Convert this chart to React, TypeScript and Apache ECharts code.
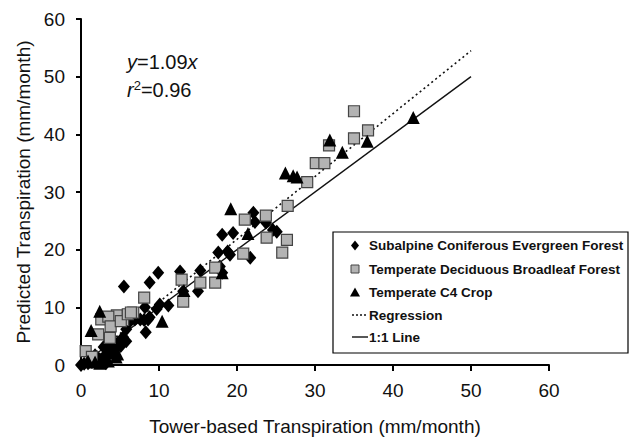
import React, { useEffect, useRef } from "react";
import * as echarts from "echarts";

const subalpine: [number, number][] = [
  [22.1, 26.4], [22.3, 24.8], [23.7, 24.7], [24.6, 23.4], [25.1, 23.1],
  [18.1, 22.6], [19.5, 22.9], [17.6, 19.5], [18.8, 19.7], [19.1, 19.1],
  [21.7, 18.6], [12.7, 16.2], [15.3, 16.4], [17.8, 17.1], [18.1, 16.0],
  [9.9, 16.0], [8.8, 14.3], [13.1, 12.8], [15.0, 12.8], [10.1, 10.5],
  [11.2, 10.3], [9.7, 9.7], [8.8, 8.3], [5.5, 13.6], [8.3, 5.7],
  [8.2, 10.0], [5.4, 4.8], [5.8, 4.1], [5.1, 3.3], [6.9, 7.9],
  [7.6, 7.9], [8.1, 7.8], [6.3, 7.6], [8.6, 7.9], [5.8, 6.2],
  [0.0, 0.0], [0.4, 0.2], [0.9, 0.3], [1.4, 0.5], [1.9, 0.9],
  [2.4, 1.0], [2.9, 1.4], [3.5, 1.9], [4.0, 2.4], [4.5, 2.8],
  [2.9, 3.1], [3.7, 3.6], [1.8, 1.7], [4.7, 3.8], [3.2, 0.3],
];

const deciduous: [number, number][] = [
  [35.0, 44.0], [36.8, 40.7], [35.0, 39.3], [31.8, 38.1], [30.1, 35.0],
  [31.2, 35.0], [29.0, 31.7], [26.5, 27.6], [21.0, 25.2], [23.7, 25.9],
  [23.8, 22.1], [26.4, 21.7], [25.8, 19.5], [20.8, 19.3], [17.2, 16.9],
  [15.3, 14.3], [17.2, 14.3], [12.9, 14.8], [13.1, 11.0], [8.1, 11.7],
  [6.7, 9.1], [5.4, 7.8], [4.1, 8.3], [4.6, 8.6], [2.6, 7.9],
  [3.5, 8.4], [3.8, 6.7], [5.1, 7.6], [6.0, 8.8], [6.4, 9.1],
  [2.2, 5.3], [3.7, 4.7], [0.6, 2.4], [1.4, 1.4],
];

const c4crop: [number, number][] = [
  [42.6, 42.9], [36.7, 38.8], [31.9, 39.0], [33.5, 36.9], [26.2, 33.3],
  [27.2, 32.8], [27.7, 32.6], [19.2, 27.1], [21.4, 22.8], [18.1, 16.0],
  [13.2, 12.9], [10.4, 7.6], [2.4, 9.3], [1.3, 6.0], [4.5, 1.4],
  [4.0, 2.1], [4.7, 1.9], [0.9, 0.7], [1.8, 0.5], [2.4, 0.3],
  [3.2, 1.0], [3.5, 0.7],
];

const regressionSlope = 1.09;
const lineEndX = 50;
const regressionLine: [number, number][] = [[0, 0], [lineEndX, lineEndX * regressionSlope]];
const oneToOneLine: [number, number][] = [[0, 0], [lineEndX, lineEndX]];

const seriesNames = [
  "Subalpine Coniferous Evergreen Forest",
  "Temperate Deciduous Broadleaf Forest",
  "Temperate C4 Crop",
  "Regression",
  "1:1 Line",
];

const FONT = "Liberation Sans, Arial, sans-serif";
const SQUARE_FILL = "#b3b3b3";
const SQUARE_BORDER = "#444";

function buildLegend() {
  const x0 = 333;
  const y0 = 232;
  const w = 295;
  const h = 121;
  const rowY = [245.5, 269, 292.5, 315, 337];
  const ix = 355;
  const tx = 369;
  const els: any[] = [
    {
      type: "rect",
      shape: { x: x0, y: y0, width: w, height: h },
      style: { fill: "#fff", stroke: "#000", lineWidth: 1.2 },
      z: 50,
    },
  ];
  els.push({
    type: "polygon",
    shape: { points: [[ix, rowY[0] - 5], [ix + 4, rowY[0]], [ix, rowY[0] + 5], [ix - 4, rowY[0]]] },
    style: { fill: "#000" },
    z: 51,
  });
  els.push({
    type: "rect",
    shape: { x: ix - 4, y: rowY[1] - 4, width: 8, height: 8 },
    style: { fill: SQUARE_FILL, stroke: SQUARE_BORDER, lineWidth: 1 },
    z: 51,
  });
  els.push({
    type: "polygon",
    shape: { points: [[ix, rowY[2] - 5], [ix + 5, rowY[2] + 4], [ix - 5, rowY[2] + 4]] },
    style: { fill: "#000" },
    z: 51,
  });
  els.push({
    type: "line",
    shape: { x1: ix - 3, y1: rowY[3], x2: ix + 13, y2: rowY[3] },
    style: { stroke: "#111", lineWidth: 1.5, lineDash: [2, 2] },
    z: 51,
  });
  els.push({
    type: "line",
    shape: { x1: ix - 3, y1: rowY[4], x2: ix + 13, y2: rowY[4] },
    style: { stroke: "#111", lineWidth: 1.4 },
    z: 51,
  });
  seriesNames.forEach((name, i) => {
    els.push({
      type: "text",
      x: tx,
      y: rowY[i],
      style: {
        text: name,
        fontFamily: FONT,
        fontSize: 13.5,
        fontWeight: "bold",
        fill: "#111",
        verticalAlign: "middle",
        align: "left",
      },
      z: 52,
    });
  });
  return els;
}

export default function App() {
  const ref = useRef<HTMLDivElement>(null);
  useEffect(() => {
    if (!ref.current) return;
    const chart = echarts.init(ref.current, null, { renderer: "svg" });
    chart.setOption({
      animation: false,
      backgroundColor: "#fff",
      grid: { left: 81, right: 81, top: 19, bottom: 75 },
      xAxis: {
        type: "value",
        min: 0,
        max: 60,
        interval: 10,
        name: "Tower-based Transpiration (mm/month)",
        nameLocation: "middle",
        nameGap: 52,
        nameTextStyle: { fontFamily: FONT, fontSize: 19, color: "#111" },
        axisLine: { lineStyle: { color: "#000", width: 2 } },
        axisTick: { length: 6, lineStyle: { color: "#000", width: 2 } },
        axisLabel: { margin: 16, fontFamily: FONT, fontSize: 19, color: "#111" },
        splitLine: { show: false },
      },
      yAxis: {
        type: "value",
        min: 0,
        max: 60,
        interval: 10,
        name: "Predicted Transpiration (mm/month)",
        nameLocation: "middle",
        nameGap: 48,
        nameTextStyle: { fontFamily: FONT, fontSize: 19, color: "#111" },
        axisLine: { show: true, lineStyle: { color: "#000", width: 2 } },
        axisTick: { show: true, length: 5, lineStyle: { color: "#000", width: 2 } },
        axisLabel: { margin: 16, fontFamily: FONT, fontSize: 19, color: "#111" },
        splitLine: { show: false },
      },
      graphic: [
        {
          type: "text",
          left: 127,
          top: 52,
          style: {
            text: "{i|y}=1.09{i|x}",
            fontFamily: FONT,
            fontSize: 20,
            fill: "#111",
            rich: { i: { fontStyle: "italic", fontFamily: FONT, fontSize: 20, fill: "#111" } },
          },
        },
        {
          type: "text",
          left: 127,
          top: 79,
          style: {
            text: "{i|r}{s|2}=0.96",
            fontFamily: FONT,
            fontSize: 20,
            fill: "#111",
            rich: {
              i: { fontStyle: "italic", fontFamily: FONT, fontSize: 20, fill: "#111" },
              s: { fontFamily: FONT, fontSize: 13, fill: "#111", verticalAlign: "top", padding: [0, 0, 8, 0] },
            },
          },
        },
        ...buildLegend(),
      ],
      series: [
        {
          name: seriesNames[3],
          type: "line",
          data: regressionLine,
          showSymbol: false,
          symbol: "none",
          lineStyle: { color: "#111", width: 1.6, type: [2, 3] },
          itemStyle: { color: "#111" },
          z: 1,
        },
        {
          name: seriesNames[4],
          type: "line",
          data: oneToOneLine,
          showSymbol: false,
          symbol: "none",
          lineStyle: { color: "#111", width: 1.4, type: "solid" },
          itemStyle: { color: "#111" },
          z: 1,
        },
        {
          name: seriesNames[0],
          type: "scatter",
          data: subalpine,
          symbol: "diamond",
          symbolSize: [12, 14],
          itemStyle: { color: "#000", opacity: 1 },
          z: 3,
        },
        {
          name: seriesNames[1],
          type: "scatter",
          data: deciduous,
          symbol: "rect",
          symbolSize: 11,
          itemStyle: { color: SQUARE_FILL, borderColor: SQUARE_BORDER, borderWidth: 1.2, opacity: 1 },
          z: 4,
        },
        {
          name: seriesNames[2],
          type: "scatter",
          data: c4crop,
          symbol: "triangle",
          symbolSize: [13, 13],
          itemStyle: { color: "#000", opacity: 1 },
          z: 5,
        },
      ],
    });
    return () => chart.dispose();
  }, []);
  return <div ref={ref} style={{ width: 630, height: 441, position: "absolute", left: 0, top: 0 }} />;
}
